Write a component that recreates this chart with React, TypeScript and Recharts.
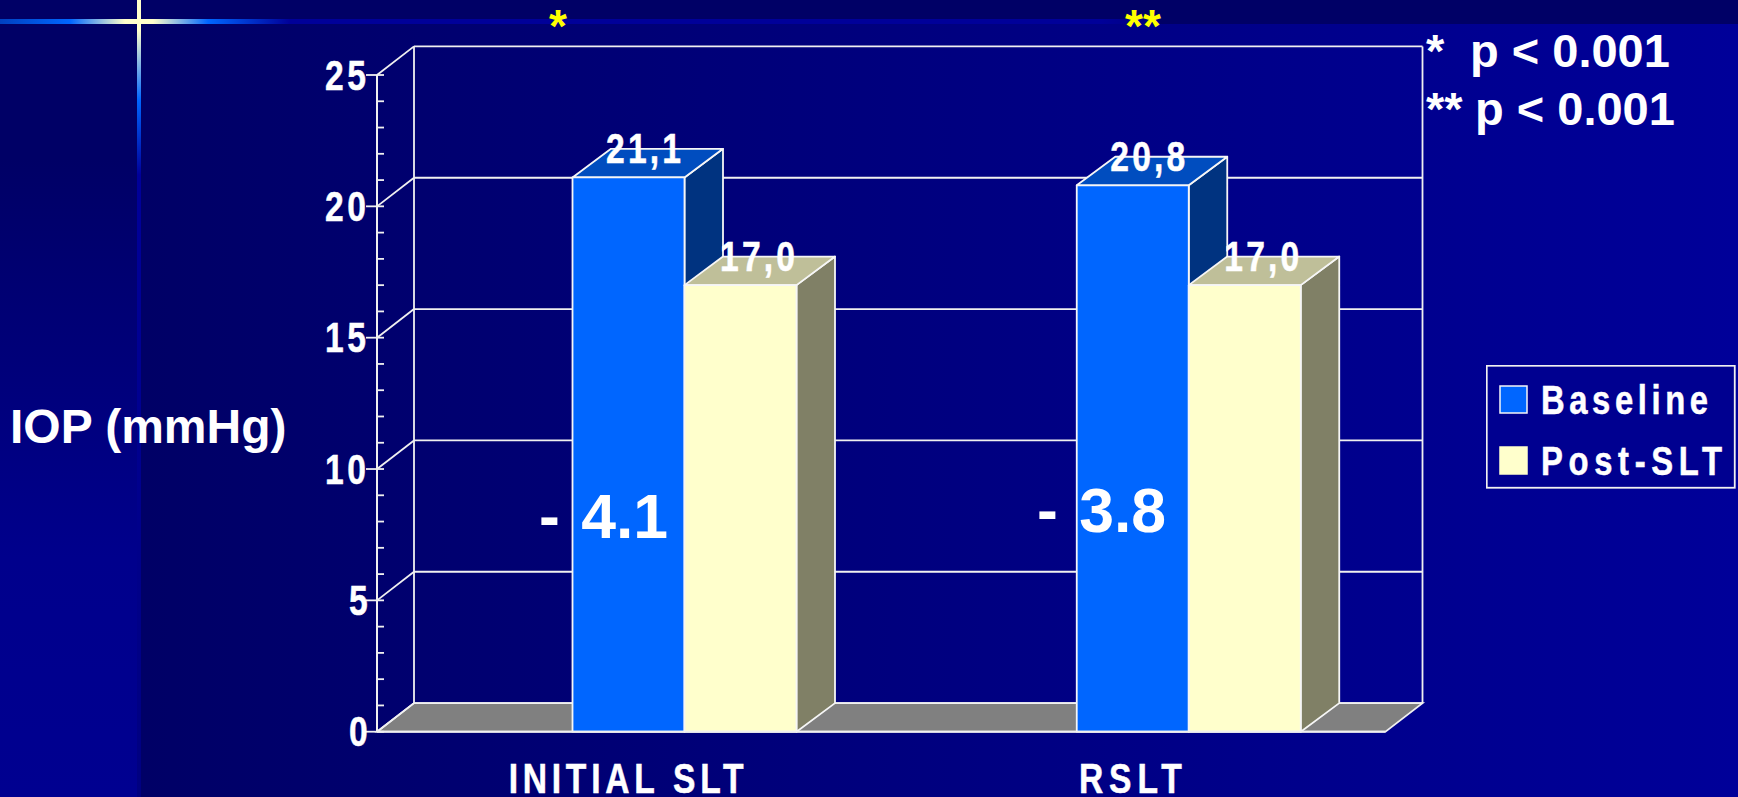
import React from "react";
import { BarChart, Bar, XAxis, YAxis, CartesianGrid, Legend, LabelList } from "recharts";

// ---- data ----
const categories = ["INITIAL SLT", "RSLT"];
const baselineIop = [21.1, 20.8];
const postSltIop = [17.0, 17.0];
const reductions = ["- 4.1", "- 3.8"];
const pValues = [
  { mark: "*", text: "p < 0.001" },
  { mark: "**", text: "p < 0.001" },
];
const significance = ["*", "**"];
const majorTicks = [0, 5, 10, 15, 20, 25];
const allTicks = Array.from({ length: 26 }, (_, i) => i);

const rows = categories.map((name, i) => ({
  name,
  baseline: baselineIop[i],
  post: postSltIop[i],
}));

// ---- layout ----
const WIDTH = 1738;
const HEIGHT = 797;
const PLOT_LEFT = 377;
const PLOT_RIGHT = 1385.5;
const PLOT_TOP = 75;
const PLOT_BOTTOM = 731.7;
const AXIS_W = 60;
const XAXIS_H = 60;
const DEPTH_X = 37;
const DEPTH_Y = 28.6;
const BAR_DEPTH_X = 38.5;
const BAR_SHIFT = 55.5;
const BAR_W = 112;
const LINE = "#f0f0f0";
const LINE_W = 1.8;
const FONT = '"Liberation Sans", Arial, sans-serif';

// Condensed bold type with open tracking, fitted to a given pixel width.
function Squeezed({ x, y, width, size = 42, squeeze = 0.8, children }: any) {
  return (
    <text
      transform={`translate(${x},${y}) scale(${squeeze},1)`}
      fontFamily={FONT}
      fontWeight="bold"
      fontSize={size}
      fill="#fff"
      stroke="#fff"
      strokeWidth={0.5}
      textLength={width / squeeze}
      lengthAdjust="spacing"
    >
      {children}
    </text>
  );
}

function YTick({ y, payload }: any) {
  const major = payload.value % 5 === 0;
  const axisX = PLOT_LEFT;
  const s = String(payload.value);
  const w = s.length === 2 ? 41 : 17;
  return (
    <g>
      <line x1={major ? axisX - 11 : axisX} x2={axisX + 7} y1={y} y2={y} stroke={LINE} strokeWidth={LINE_W} />
      {major && (
        <Squeezed x={366 - w} y={y + 14.5} width={w}>
          {s}
        </Squeezed>
      )}
    </g>
  );
}

const xLabelWidths: Record<string, number> = { "INITIAL SLT": 235, RSLT: 103 };

function XTick({ x, payload }: any) {
  const w = xLabelWidths[payload.value] ?? 100;
  return (
    <Squeezed x={x - w / 2 - 3} y={793} width={w}>
      {payload.value}
    </Squeezed>
  );
}

function BackWallLine(p: any) {
  const { x1, x2, y1, key } = p;
  const isFloor = Math.abs(y1 - PLOT_BOTTOM) < 1;
  return (
    <g key={key}>
      {isFloor && (
        <polygon
          points={`${x1},${y1} ${x1 + DEPTH_X},${y1 - DEPTH_Y} ${x2 + DEPTH_X},${y1 - DEPTH_Y} ${x2},${y1}`}
          fill="#808080"
          stroke={LINE}
          strokeWidth={LINE_W}
        />
      )}
      <line x1={x1 + DEPTH_X} x2={x2 + DEPTH_X} y1={y1 - DEPTH_Y} y2={y1 - DEPTH_Y} stroke={LINE} strokeWidth={LINE_W} />
      <line x1={x1} x2={x1 + DEPTH_X} y1={y1} y2={y1 - DEPTH_Y} stroke={LINE} strokeWidth={LINE_W} />
    </g>
  );
}

function BackWallEdge(p: any) {
  const { x1, y1, y2, key } = p;
  return (
    <line key={key} x1={x1 + DEPTH_X} x2={x1 + DEPTH_X} y1={y1 - DEPTH_Y} y2={y2 - DEPTH_Y} stroke={LINE} strokeWidth={LINE_W} />
  );
}

function makeBox(topFill: string, sideFill: string) {
  return function Box({ x, y, width, height, fill }: any) {
    const l = x + BAR_SHIFT;
    const r = l + width;
    const b = y + height;
    return (
      <g stroke="#f6f6f6" strokeWidth={LINE_W} strokeLinejoin="round">
        <polygon points={`${r},${y} ${r + BAR_DEPTH_X},${y - DEPTH_Y} ${r + BAR_DEPTH_X},${b - DEPTH_Y} ${r},${b}`} fill={sideFill} />
        <polygon points={`${l},${y} ${l + BAR_DEPTH_X},${y - DEPTH_Y} ${r + BAR_DEPTH_X},${y - DEPTH_Y} ${r},${y}`} fill={topFill} />
        <rect x={l} y={y} width={width} height={height} fill={fill} />
      </g>
    );
  };
}

const BaselineBox = makeBox("#004DBF", "#003380");
const PostBox = makeBox("#BFBF99", "#808066");

function ValueLabel({ x, y, width, value, nudge = 15 }: any) {
  const w = 75;
  const cx = x + BAR_SHIFT + width / 2 + nudge;
  return (
    <Squeezed x={cx - w / 2} y={y - 14.5} width={w}>
      {Number(value).toFixed(1).replace(".", ",")}
    </Squeezed>
  );
}

function LegendBox({ payload }: any) {
  const rowsY = [21, 82];
  const widths = [167, 181];
  return (
    <svg width={250} height={124} style={{ display: "block" }}>
      <rect x={0.75} y={0.75} width={248} height={122} fill="#000090" stroke={LINE} strokeWidth={LINE_W} />
      {(payload ?? []).map((item: any, i: number) => (
        <g key={item.value}>
          <rect x={14} y={rowsY[i]} width={27} height={27} fill={item.color} stroke={i === 0 ? "#f6f6f6" : item.color} strokeWidth={1.5} />
          <Squeezed x={55} y={rowsY[i] + 27.5} width={widths[i]} size={41}>
            {item.value}
          </Squeezed>
        </g>
      ))}
    </svg>
  );
}

// Slide backdrop: side panel, main field, header band and the cross-shaped accent.
function Backdrop() {
  const base: React.CSSProperties = { position: "absolute" };
  return (
    <>
      <div style={{ ...base, left: 141, top: 0, width: WIDTH - 141, height: HEIGHT, background: "linear-gradient(90deg,#000066,#000099)" }} />
      <div style={{ ...base, left: 0, top: 0, width: 141, height: HEIGHT, background: "linear-gradient(180deg,#000066 20%,#00008c 70%,#000090)" }} />
      <div style={{ ...base, left: 0, top: 0, width: WIDTH, height: 24, background: "#000066" }} />
      <div
        style={{
          ...base,
          left: 0,
          top: 19,
          width: 1160,
          height: 5,
          background:
            "linear-gradient(90deg,#0040c0 0px,#0066ff 70px,#ffffcc 125px,#ffffcc 153px,#0066ff 208px,#000099 290px,#000099 1100px,#00007c 1160px)",
        }}
      />
      <div
        style={{
          ...base,
          left: 137,
          top: 0,
          width: 4,
          height: HEIGHT,
          background: "linear-gradient(180deg,#ffffcc 0px,#ffffcc 30px,#0066ff 100px,#000099 175px,#000080 797px)",
        }}
      />
    </>
  );
}

const deltaPos = [
  { x: 539, y: 538 },
  { x: 1037, y: 532 },
];
const starX = [549, 1125];

function Annotations() {
  const common = { fontFamily: FONT, fontWeight: "bold" as const };
  return (
    <svg width={WIDTH} height={HEIGHT} style={{ position: "absolute", left: 0, top: 0 }}>
      <text x={10} y={443} fontSize={48} fill="#fff" {...common}>
        IOP (mmHg)
      </text>
      {significance.map((s, i) => (
        <text key={i} x={starX[i]} y={42} fontSize={46} fill="#ffff00" {...common}>
          {s}
        </text>
      ))}
      {pValues.map((p, i) => (
        <text key={i} y={67 + i * 58} fontSize={47} fill="#fff" {...common}>
          <tspan x={1426}>{p.mark}</tspan>
          <tspan x={1470 + i * 5}>{p.text}</tspan>
        </text>
      ))}
      {reductions.map((r, i) => (
        <text key={i} x={deltaPos[i].x} y={deltaPos[i].y} fontSize={62.5} wordSpacing={4} fill="#fff" style={{ whiteSpace: "pre" }} {...common}>
          {r}
        </text>
      ))}
    </svg>
  );
}

export default function App() {
  return (
    <div style={{ position: "fixed", left: 0, top: 0, width: WIDTH, height: HEIGHT, overflow: "hidden" }}>
      <Backdrop />
      <div style={{ position: "absolute", left: 0, top: 0 }}>
        <BarChart
          width={WIDTH}
          height={HEIGHT}
          data={rows}
          barSize={BAR_W}
          barGap={0}
          margin={{
            top: PLOT_TOP,
            left: PLOT_LEFT - AXIS_W,
            right: WIDTH - PLOT_RIGHT,
            bottom: HEIGHT - PLOT_BOTTOM - XAXIS_H,
          }}
        >
          <CartesianGrid
            horizontalValues={majorTicks}
            verticalPoints={[PLOT_LEFT, PLOT_RIGHT]}
            horizontal={BackWallLine as any}
            vertical={BackWallEdge as any}
          />
          <XAxis
            dataKey="name"
            height={XAXIS_H}
            tickLine={false}
            axisLine={{ stroke: LINE, strokeWidth: 2 }}
            tick={<XTick />}
            interval={0}
          />
          <YAxis
            width={AXIS_W}
            domain={[0, 25]}
            ticks={allTicks}
            interval={0}
            tickLine={false}
            axisLine={{ stroke: LINE, strokeWidth: 2 }}
            tick={<YTick />}
          />
          <Legend
            layout="horizontal"
            align="center"
            verticalAlign="middle"
            wrapperStyle={{ left: 1486, top: 365, width: 250, height: 124, bottom: "auto", right: "auto" }}
            content={<LegendBox />}
          />
          <Bar dataKey="baseline" name="Baseline" fill="#0066FF" shape={<BaselineBox />} isAnimationActive={false}>
            <LabelList dataKey="baseline" content={<ValueLabel />} />
          </Bar>
          <Bar dataKey="post" name="Post-SLT" fill="#FFFFCC" shape={<PostBox />} isAnimationActive={false}>
            <LabelList dataKey="post" content={<ValueLabel nudge={17} />} />
          </Bar>
        </BarChart>
      </div>
      <Annotations />
    </div>
  );
}
